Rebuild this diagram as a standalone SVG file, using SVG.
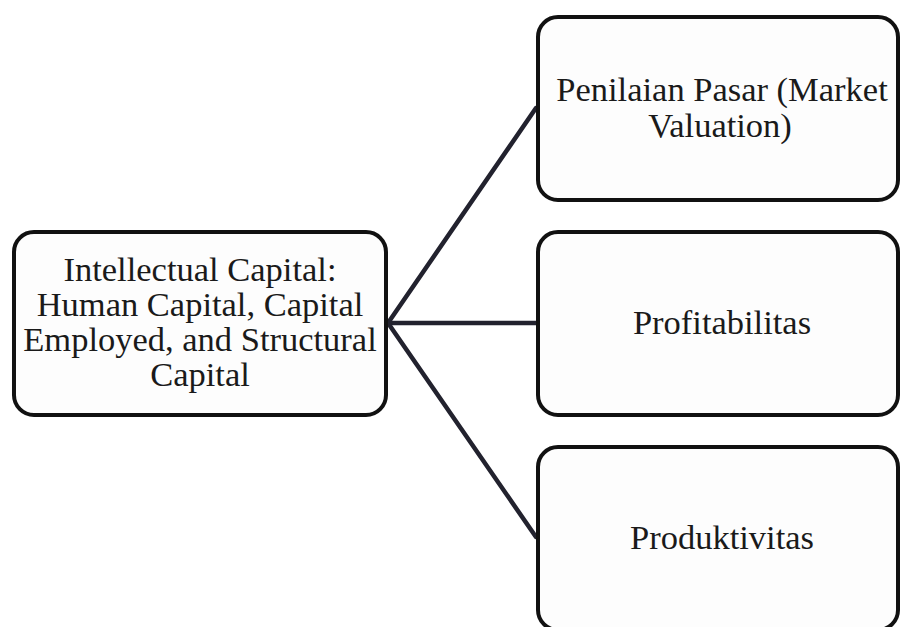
<svg xmlns="http://www.w3.org/2000/svg" width="901" height="627" viewBox="0 0 901 627">
<style>
.box{fill:#fdfdfd;stroke:#111;stroke-width:4;}
.t{font-family:"Liberation Serif","Times New Roman",serif;font-size:34.5px;fill:#1a1a1a;text-anchor:middle;}
.c{stroke:#22222e;stroke-width:4.5;fill:none;stroke-linecap:round;}
</style>
<rect width="901" height="627" fill="#ffffff"/>
<g id="connectors">
<line class="c" x1="388" y1="323" x2="536" y2="108"/>
<line class="c" x1="388" y1="323" x2="536" y2="323"/>
<line class="c" x1="388" y1="323" x2="536" y2="537"/>
</g>
<g id="node-ic">
<rect class="box" x="14" y="232" width="372" height="183" rx="20"/>
<text class="t" x="200" y="281">Intellectual Capital:</text>
<text class="t" x="200" y="316">Human Capital, Capital</text>
<text class="t" x="200" y="351">Employed, and Structural</text>
<text class="t" x="200" y="386">Capital</text>
</g>
<g id="node-market">
<rect class="box" x="538" y="17" width="360" height="183" rx="20"/>
<text class="t" x="722" y="101">Penilaian Pasar (Market</text>
<text class="t" x="720" y="137">Valuation)</text>
</g>
<g id="node-profit">
<rect class="box" x="538" y="232" width="360" height="183" rx="20"/>
<text class="t" x="722" y="334">Profitabilitas</text>
</g>
<g id="node-produk">
<rect class="box" x="538" y="447" width="360" height="183" rx="20"/>
<text class="t" x="722" y="549">Produktivitas</text>
</g>
</svg>
